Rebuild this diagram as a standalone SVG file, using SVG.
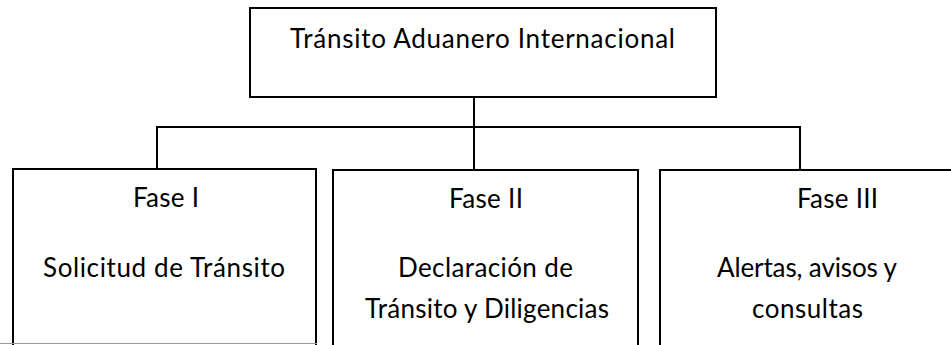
<svg xmlns="http://www.w3.org/2000/svg" width="951" height="345" viewBox="0 0 951 345">
<style>
.box{fill:#fff;stroke:#000;stroke-width:2}
.conn{fill:none;stroke:#000;stroke-width:2}
.t{font-family:Lato,"Open Sans","Liberation Sans",sans-serif;font-size:26px;fill:#000}
</style>
<rect width="951" height="345" fill="#fff"/>
<g id="connectors">
<path class="conn" d="M474 97V170"/>
<path class="conn" d="M157 169V127H800V170"/>
</g>
<g id="root">
<rect class="box" x="250" y="8" width="466" height="89"/>
<text class="t" x="290" y="47.5" textLength="385">Tránsito Aduanero Internacional</text>
</g>
<g id="fase1">
<rect class="box" x="13" y="169" width="303" height="180"/>
<text class="t" x="133" y="207" textLength="66">Fase I</text>
<text class="t" x="43" y="277" textLength="242">Solicitud de Tránsito</text>
</g>
<g id="fase2">
<rect class="box" x="333" y="170" width="305" height="180"/>
<text class="t" x="449" y="208" textLength="74">Fase II</text>
<text class="t" x="398" y="277" textLength="175">Declaración de</text>
<text class="t" x="365" y="317.5" textLength="244">Tránsito y Diligencias</text>
</g>
<g id="fase3">
<rect class="box" x="660" y="170" width="310" height="180"/>
<text class="t" x="797" y="208" textLength="81">Fase III</text>
<text class="t" x="717" y="277" textLength="180">Alertas, avisos y</text>
<text class="t" x="752" y="317.5" textLength="111">consultas</text>
</g>
<line x1="0" y1="343.5" x2="317" y2="343.5" stroke="#999" stroke-width="1"/>
</svg>
